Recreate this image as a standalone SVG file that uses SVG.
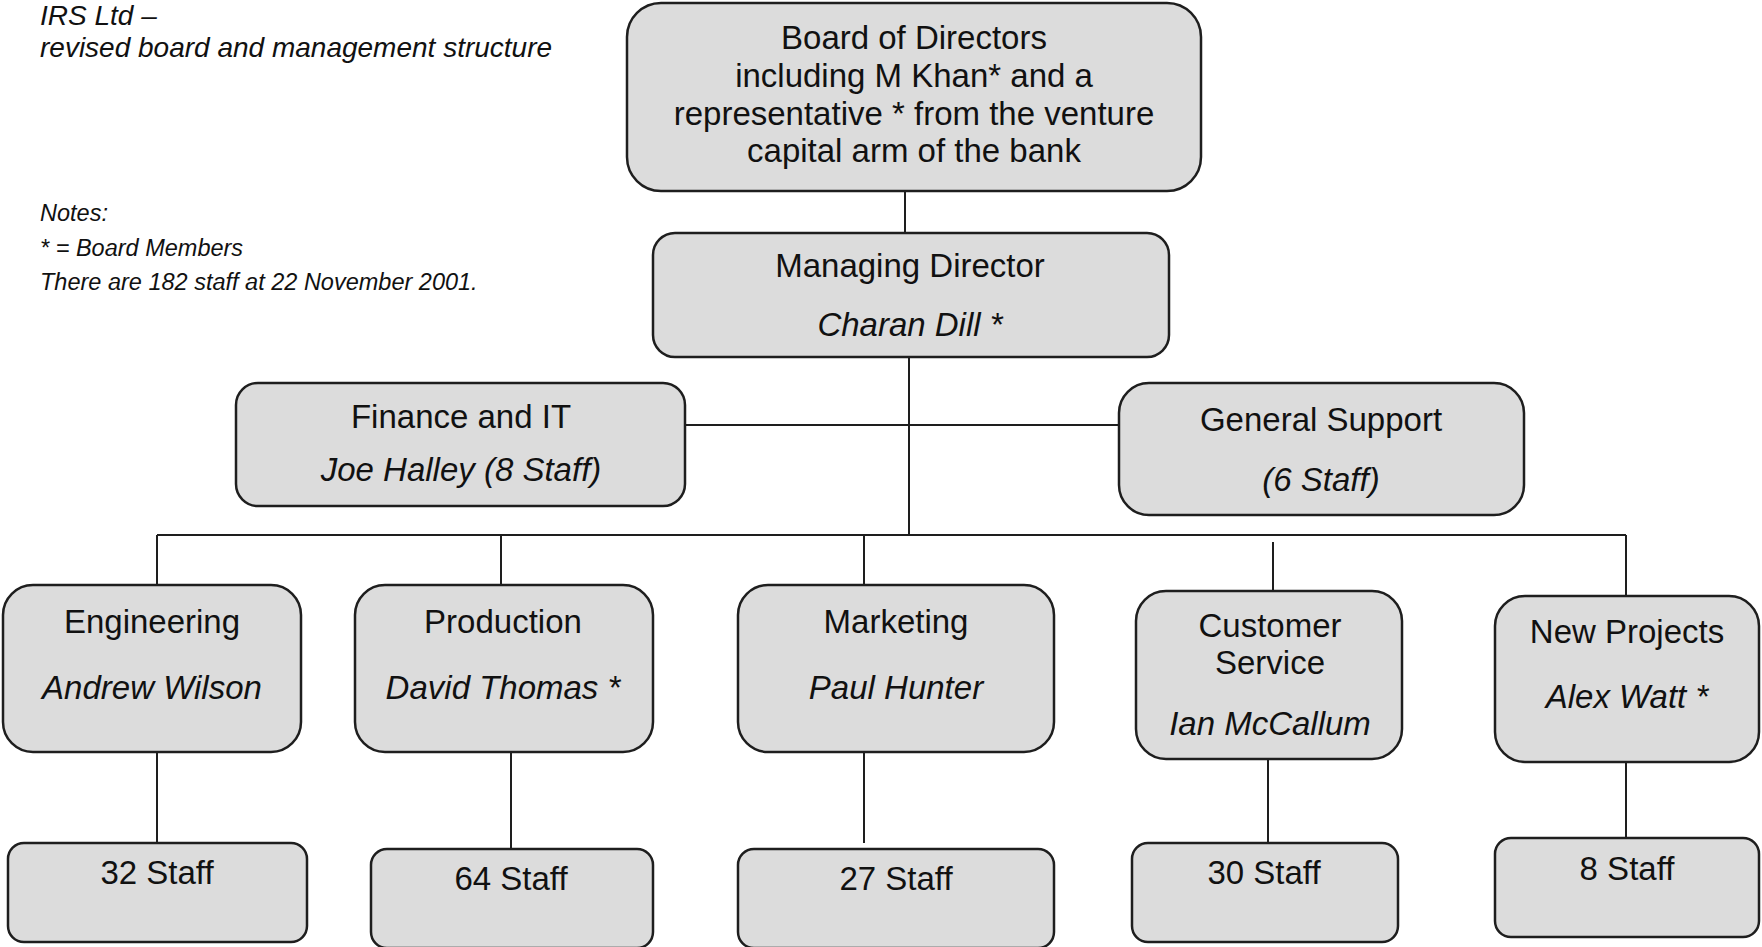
<svg xmlns="http://www.w3.org/2000/svg" width="1762" height="947" viewBox="0 0 1762 947">
  <style>
    .box { fill: #dcdcdc; stroke: #1e1e1e; stroke-width: 2.5; }
    .wire { fill: none; stroke: #1e1e1e; stroke-width: 2; }
    text { font-family: "Liberation Sans", Arial, sans-serif; fill: #111; }
    .lbl { font-size: 33px; text-anchor: middle; }
    .name { font-size: 33px; text-anchor: middle; font-style: italic; }
    .title { font-size: 28px; font-style: italic; }
    .note { font-size: 23.5px; font-style: italic; }
  </style>

  <rect width="1762" height="947" fill="#ffffff"/>

  <!-- heading and notes -->
  <g id="heading">
    <text class="title" x="40" y="25">IRS Ltd –</text>
    <text class="title" x="40" y="57">revised board and management structure</text>
  </g>
  <g id="notes">
    <text class="note" x="40" y="221">Notes:</text>
    <text class="note" x="40" y="256">* = Board Members</text>
    <text class="note" x="40" y="290">There are 182 staff at 22 November 2001.</text>
  </g>

  <!-- reporting lines -->
  <g id="connectors">
    <line class="wire" x1="905" y1="191" x2="905" y2="233"/>
    <line class="wire" x1="909" y1="357" x2="909" y2="535"/>
    <line class="wire" x1="685" y1="425" x2="1119" y2="425"/>
    <line class="wire" x1="157" y1="535" x2="1626" y2="535"/>
    <line class="wire" x1="157" y1="535" x2="157" y2="585"/>
    <line class="wire" x1="501" y1="535" x2="501" y2="585"/>
    <line class="wire" x1="864" y1="535" x2="864" y2="585"/>
    <line class="wire" x1="1273" y1="542" x2="1273" y2="591"/>
    <line class="wire" x1="1626" y1="535" x2="1626" y2="596"/>
    <line class="wire" x1="157" y1="752" x2="157" y2="845"/>
    <line class="wire" x1="511" y1="752" x2="511" y2="851"/>
    <line class="wire" x1="864" y1="752" x2="864" y2="843"/>
    <line class="wire" x1="1268" y1="759" x2="1268" y2="848"/>
    <line class="wire" x1="1626" y1="762" x2="1626" y2="843"/>
  </g>

  <g id="board">
    <rect class="box" x="627" y="3" width="574" height="188" rx="34"/>
    <text class="lbl" x="914" y="49">Board of Directors</text>
    <text class="lbl" x="914" y="87">including M Khan* and a</text>
    <text class="lbl" x="914" y="125">representative * from the venture</text>
    <text class="lbl" x="914" y="162">capital arm of the bank</text>
  </g>

  <g id="managing-director">
    <rect class="box" x="653" y="233" width="516" height="124" rx="22"/>
    <text class="lbl" x="910" y="277">Managing Director</text>
    <text class="name" x="910" y="336">Charan Dill *</text>
  </g>

  <g id="finance">
    <rect class="box" x="236" y="383" width="449" height="123" rx="22"/>
    <text class="lbl" x="461" y="428">Finance and IT</text>
    <text class="name" x="461" y="481">Joe Halley (8 Staff)</text>
  </g>

  <g id="general-support">
    <rect class="box" x="1119" y="383" width="405" height="132" rx="30"/>
    <text class="lbl" x="1321" y="431">General Support</text>
    <text class="name" x="1321" y="491">(6 Staff)</text>
  </g>

  <g id="engineering">
    <rect class="box" x="3" y="585" width="298" height="167" rx="30"/>
    <text class="lbl" x="152" y="633">Engineering</text>
    <text class="name" x="152" y="699">Andrew Wilson</text>
  </g>

  <g id="production">
    <rect class="box" x="355" y="585" width="298" height="167" rx="30"/>
    <text class="lbl" x="503" y="633">Production</text>
    <text class="name" x="503" y="699">David Thomas *</text>
  </g>

  <g id="marketing">
    <rect class="box" x="738" y="585" width="316" height="167" rx="30"/>
    <text class="lbl" x="896" y="633">Marketing</text>
    <text class="name" x="896" y="699">Paul Hunter</text>
  </g>

  <g id="customer-service">
    <rect class="box" x="1136" y="591" width="266" height="168" rx="30"/>
    <text class="lbl" x="1270" y="637">Customer</text>
    <text class="lbl" x="1270" y="674">Service</text>
    <text class="name" x="1270" y="735">Ian McCallum</text>
  </g>

  <g id="new-projects">
    <rect class="box" x="1495" y="596" width="264" height="166" rx="30"/>
    <text class="lbl" x="1627" y="643">New Projects</text>
    <text class="name" x="1627" y="708">Alex Watt *</text>
  </g>

  <g id="staff-engineering">
    <rect class="box" x="8" y="843" width="299" height="99" rx="16"/>
    <text class="lbl" x="157" y="884">32 Staff</text>
  </g>

  <g id="staff-production">
    <rect class="box" x="371" y="849" width="282" height="99" rx="16"/>
    <text class="lbl" x="511" y="890">64 Staff</text>
  </g>

  <g id="staff-marketing">
    <rect class="box" x="738" y="849" width="316" height="99" rx="16"/>
    <text class="lbl" x="896" y="890">27 Staff</text>
  </g>

  <g id="staff-customer-service">
    <rect class="box" x="1132" y="843" width="266" height="99" rx="16"/>
    <text class="lbl" x="1264" y="884">30 Staff</text>
  </g>

  <g id="staff-new-projects">
    <rect class="box" x="1495" y="838" width="264" height="99" rx="16"/>
    <text class="lbl" x="1627" y="880">8 Staff</text>
  </g>
</svg>
